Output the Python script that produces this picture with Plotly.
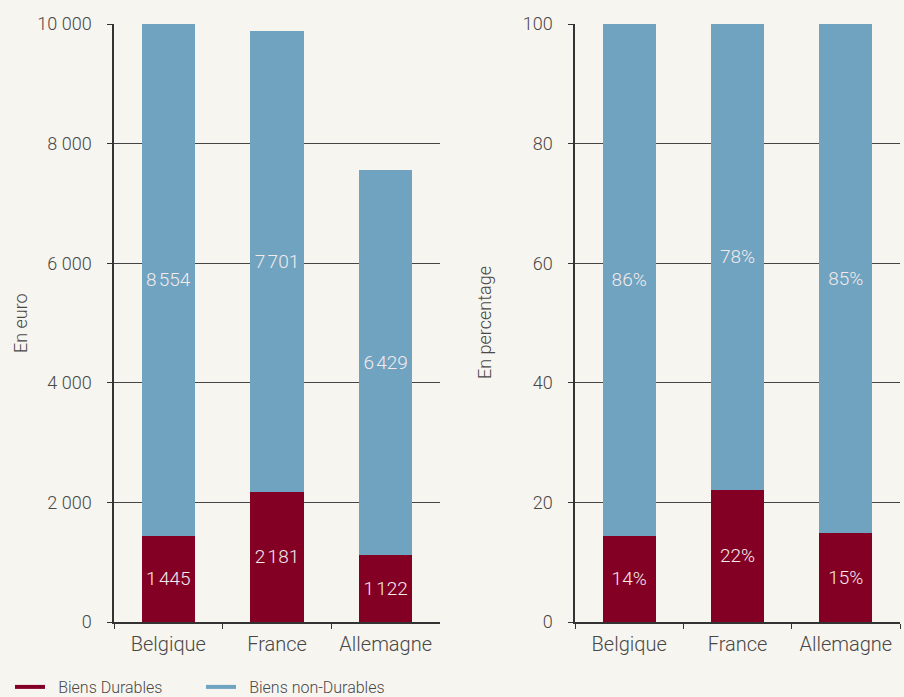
import plotly.graph_objects as go

# data
pays = ['Belgique', 'France', 'Allemagne']
durables_eur = [1445, 2181, 1122]
non_durables_eur = [8554, 7701, 6429]
durables_pct = [14.4, 22.1, 14.9]
non_durables_pct = [85.6, 77.9, 85.1]

RED = '#830024'
BLUE = '#6fa3c0'
BG = '#f7f5f0'
TXT = '#484848'
FONT = 'Roboto'
W = 300

fig = go.Figure()

def thin(v):
    # narrow space as thousands separator inside the bars
    return f'{v:,}'.replace(',', '\u202f')

def bars(y, color, xa, ya, text):
    fig.add_trace(go.Bar(x=pays, y=y, marker=dict(color=color, line=dict(width=0)),
                         xaxis=xa, yaxis=ya, showlegend=False,
                         text=text, textposition='inside', insidetextanchor='middle',
                         textangle=0, constraintext='none',
                         textfont=dict(family=FONT, size=19, color='#f3eaec', weight=W),
                         hoverinfo='skip'))

bars(durables_eur, RED, 'x', 'y', [thin(v) for v in durables_eur])
bars(non_durables_eur, BLUE, 'x', 'y', [thin(v) for v in non_durables_eur])
bars(durables_pct, RED, 'x2', 'y2', [f'{v:.0f}%' for v in durables_pct])
bars(non_durables_pct, BLUE, 'x2', 'y2', [f'{v:.0f}%' for v in non_durables_pct])

# legend entries drawn as lines
fig.add_trace(go.Scatter(x=[None], y=[None], mode='lines', name='\u2002Biens Durables',
                         line=dict(color=RED, width=4)))
fig.add_trace(go.Scatter(x=[None], y=[None], mode='lines', name='\u2002Biens non-Durables',
                         line=dict(color=BLUE, width=4)))

xax = dict(showline=True, linecolor='#333', linewidth=1.5, ticks='outside', tickson='boundaries',
           ticklen=5, tickcolor='#333', showgrid=False,
           tickfont=dict(family=FONT, size=20, color=TXT, weight=W), ticklabelstandoff=3,
           fixedrange=True)
yax = dict(showline=True, linecolor='#333', linewidth=1.5, ticks='outside', ticklen=5, tickcolor='#333',
           showgrid=True, gridcolor='#444', gridwidth=1, zeroline=False,
           tickfont=dict(family=FONT, size=18, color=TXT, weight=W), ticklabelstandoff=12)

fig.update_layout(
    width=904, height=697,
    paper_bgcolor=BG, plot_bgcolor=BG,
    margin=dict(l=0, r=0, t=24, b=75),
    barmode='stack', bargap=0.51,
    font=dict(family=FONT, color=TXT, weight=W),
    xaxis=dict(xax, domain=[114/904, 440/904]),
    yaxis=dict(yax, range=[0, 10000], dtick=2000, tickformat=',d'),
    xaxis2=dict(xax, domain=[575/904, 900/904], anchor='y2'),
    yaxis2=dict(yax, range=[0, 100], dtick=20, anchor='x2'),
    separators=', ',
    legend=dict(orientation='h', x=10/904, y=10/697, yref='container', yanchor='middle', xanchor='left',
                traceorder='normal',
                font=dict(family=FONT, size=16, color=TXT, weight=W), bgcolor='rgba(0,0,0,0)',
                entrywidth=146, entrywidthmode='pixels'),
    annotations=[
        dict(text='En euro', textangle=-90, xref='paper', yref='paper', x=20/904, xanchor='center',
             y=0.5, showarrow=False, font=dict(family=FONT, size=18, color=TXT, weight=W)),
        dict(text='En percentage', textangle=-90, xref='paper', yref='paper', x=484/904, xanchor='center',
             y=0.5, showarrow=False, font=dict(family=FONT, size=18, color=TXT, weight=W)),
    ],
)

fig.write_html('out.html', config={'displayModeBar': False},
               post_script="document.body.style.margin='0';")
